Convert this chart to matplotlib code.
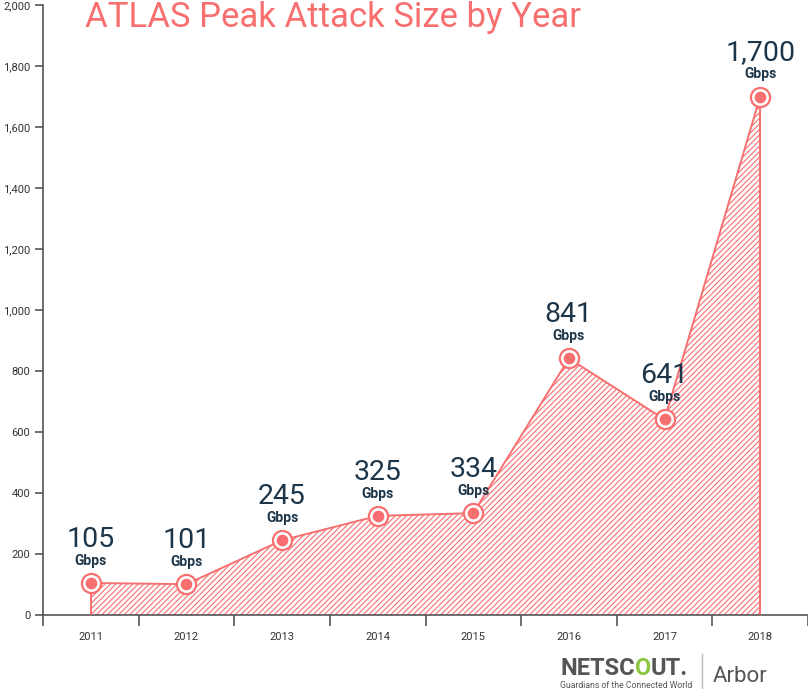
import numpy as np
import matplotlib.pyplot as plt
from matplotlib.ticker import FuncFormatter, FixedLocator

years = ['2011', '2012', '2013', '2014', '2015', '2016', '2017', '2018']
peak_gbps = [105, 101, 245, 325, 334, 841, 641, 1700]
value_labels = ['105', '101', '245', '325', '334', '841', '641', '1,700']

salmon = '#f86f6f'
navy = '#1c3549'
gray = '#555555'

plt.rcParams['font.family'] = ['Roboto', 'DejaVu Sans']
plt.rcParams['hatch.color'] = salmon
plt.rcParams['hatch.linewidth'] = 0.8

fig = plt.figure(figsize=(8.08, 6.89), dpi=100)
ax = fig.add_axes([43 / 808, 1 - 615 / 689, 1 - 43 / 808, (615 - 5) / 689])

x = np.arange(len(years))
ax.fill_between(x, 0, peak_gbps, facecolor='none', edgecolor=salmon, hatch='//////', linewidth=0)
ax.plot(x, peak_gbps, color=salmon, lw=1.4, zorder=3)
ax.vlines([x[0], x[-1]], 0, [peak_gbps[0], peak_gbps[-1]], color=salmon, lw=1.4, zorder=3)

ax.scatter(x, peak_gbps, s=190, facecolor='white', edgecolor=salmon, linewidth=1.6, zorder=4)
ax.scatter(x, peak_gbps, s=55, color=salmon, zorder=5)

for xi, v, lab in zip(x, peak_gbps, value_labels):
    ax.annotate(lab, (xi, v), textcoords='offset points', xytext=(0, 26), ha='center', va='baseline',
                fontsize=20.5, color=navy)
    ax.annotate('Gbps', (xi, v), textcoords='offset points', xytext=(0, 13), ha='center', va='baseline',
                fontsize=10, color=navy, fontweight='semibold')

ax.set_xlim(-0.5, len(years) - 0.5)
ax.set_ylim(0, 2000)
ax.set_yticks(range(0, 2001, 200))
ax.yaxis.set_major_formatter(FuncFormatter(lambda v, p: f'{int(v):,}'))
ax.set_xticks(x)
ax.set_xticklabels(years)
ax.xaxis.set_minor_locator(FixedLocator(np.arange(-0.5, len(years), 1.0)))
ax.tick_params(axis='x', which='major', length=0, pad=12, labelsize=8, colors='#333333')
ax.tick_params(axis='x', which='minor', length=8, width=1.2, color=gray, direction='out')
ax.tick_params(axis='y', length=6, width=1.2, color=gray, labelsize=8, labelcolor='#333333', pad=3)

for s in ['top', 'right']:
    ax.spines[s].set_visible(False)
for s in ['left', 'bottom']:
    ax.spines[s].set_color(gray)
    ax.spines[s].set_linewidth(1.2)

fig.text(333 / 808, 1 - 18 / 689, 'ATLAS Peak Attack Size by Year', ha='center', va='center',
         fontsize=25, color=salmon)

# logo
t1 = fig.text(560 / 808, 1 - 675 / 689, 'NETSC', fontsize=17, fontweight='bold', color=gray,
              ha='left', va='baseline')
t_o = ax.annotate('O', xy=(1, 0), xycoords=t1, va='bottom', ha='left', fontsize=17, fontweight='bold',
                  color='#8dc63f', annotation_clip=False)
ax.annotate('UT.', xy=(1, 0), xycoords=t_o, va='bottom', ha='left', fontsize=17, fontweight='bold',
            color=gray, annotation_clip=False)
fig.text(560 / 808, 1 - 685 / 689, 'Guardians of the Connected World', fontsize=6.2, color=gray,
         ha='left', va='center')
fig.add_artist(plt.Line2D([702 / 808, 702 / 808], [1 - 689 / 689, 1 - 654 / 689], color='#bbbbbb', lw=1))
fig.text(713 / 808, 1 - 682 / 689, 'Arbor', fontsize=16, color=gray, ha='left', va='baseline')

fig.savefig('out.png', dpi=100)
